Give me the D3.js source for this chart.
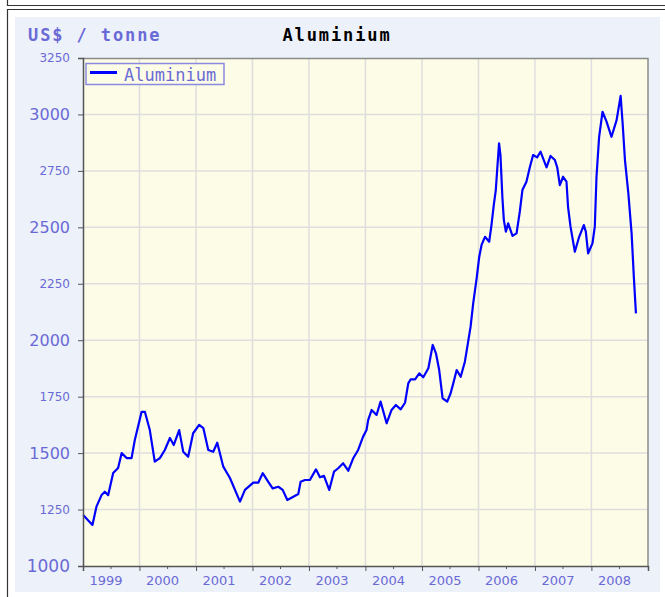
<!DOCTYPE html>
<html>
<head>
<meta charset="utf-8">
<script src="https://cdn.jsdelivr.net/npm/d3@7"></script>
<style>
  body { margin: 0; background: #fff; }
  svg { display: block; }
</style>
</head>
<body>
<div id="chart"></div>
<script>
// Aluminium price, US$ per tonne
const dates = [
  "1999-01-02","1999-03-03","1999-03-29","1999-05-01","1999-05-22","1999-06-13","1999-07-15","1999-08-16",
  "1999-09-08","1999-10-10","1999-11-11","1999-12-02","2000-01-15","2000-02-05","2000-03-08","2000-04-09",
  "2000-05-12","2000-06-13","2000-07-16","2000-08-10","2000-09-14","2000-10-10","2000-11-11","2000-12-13",
  "2001-01-21","2001-02-17","2001-03-21","2001-04-22","2001-05-18","2001-06-26","2001-08-08","2001-10-12",
  "2001-11-13","2002-01-06","2002-02-07","2002-03-08","2002-04-13","2002-05-11","2002-06-17","2002-07-15",
  "2002-08-14","2002-09-22","2002-10-24","2002-11-08","2002-12-06","2003-01-07","2003-02-15","2003-03-13",
  "2003-04-08","2003-05-12","2003-06-12","2003-07-09","2003-08-10","2003-09-12","2003-10-14","2003-11-15",
  "2003-12-17","2004-01-08","2004-01-19","2004-02-10","2004-03-13","2004-04-08","2004-05-17","2004-06-18",
  "2004-07-16","2004-08-16","2004-09-13","2004-10-04","2004-10-20","2004-11-17","2004-12-14","2005-01-09",
  "2005-02-11","2005-03-11","2005-04-01","2005-04-22","2005-05-14","2005-06-13","2005-07-05","2005-07-22",
  "2005-08-13","2005-09-08","2005-10-05","2005-10-26","2005-11-11","2005-11-28","2005-12-20","2006-01-06",
  "2006-01-21","2006-02-12","2006-03-11","2006-03-26","2006-04-10","2006-04-23","2006-05-01","2006-05-14",
  "2006-05-23","2006-06-05","2006-06-14","2006-06-27","2006-07-12","2006-08-09","2006-09-04","2006-09-25",
  "2006-10-12","2006-11-07","2006-11-29","2006-12-20","2007-01-15","2007-02-06","2007-03-17","2007-04-12",
  "2007-05-10","2007-05-25","2007-06-11","2007-07-02","2007-07-24","2007-08-03","2007-08-19","2007-09-16",
  "2007-10-14","2007-11-13","2007-11-26","2007-12-11","2008-01-08","2008-01-23","2008-02-03","2008-02-20",
  "2008-03-13","2008-04-08","2008-05-10","2008-06-12","2008-07-08","2008-07-21","2008-08-05","2008-08-27",
  "2008-09-17","2008-10-02","2008-10-15"
];
const prices = [
  1226,1182,1263,1314,1329,1314,1412,1434,
  1500,1478,1478,1558,1683,1683,1602,1462,
  1478,1514,1567,1536,1602,1506,1484,1588,
  1625,1611,1514,1506,1546,1440,1390,1285,
  1337,1369,1369,1411,1373,1344,1351,1337,
  1292,1307,1319,1373,1381,1381,1428,1393,
  1399,1337,1418,1433,1455,1422,1477,1514,
  1573,1602,1647,1691,1669,1728,1632,1691,
  1713,1694,1723,1809,1827,1827,1853,1836,
  1876,1979,1942,1868,1743,1728,1765,1809,
  1868,1838,1905,1993,2060,2164,2274,2370,
  2422,2458,2436,2510,2599,2665,2746,2872,
  2820,2628,2532,2481,2518,2462,2473,2569,
  2665,2702,2766,2820,2810,2835,2766,2816,
  2798,2766,2687,2724,2702,2591,2503,2392,
  2458,2510,2481,2385,2429,2503,2724,2901,
  3012,2968,2901,2975,3082,2961,2798,2650,
  2473,2274,2119
];
const yearLabels = ["1999","2000","2001","2002","2003","2004","2005","2006","2007","2008"];
const yTicks = [1000,1250,1500,1750,2000,2250,2500,2750,3000,3250];
const seriesName = "Aluminium";
const unitLabel = "US$ / tonne";

const W = 665, H = 597;
const margin = { top: 58, left: 83 },
      width = 565,
      height = 508;
const textColor = "#6a6ad6";

const parse = d3.timeParse("%Y-%m-%d");
const data = dates.map((d, i) => ({ date: parse(d), value: prices[i] }));

const svg = d3.select("#chart").append("svg")
    .attr("width", W)
    .attr("height", H);

// outer frames
svg.append("path")
    .attr("d", "M7.5,0 V5.5 H665 M7.5,597 V9.5 H665")
    .attr("fill", "none")
    .attr("stroke", "#333")
    .attr("stroke-width", 1.2);

// panel
svg.append("rect")
    .attr("x", 15).attr("y", 17)
    .attr("width", 645).attr("height", 575)
    .attr("fill", "#edf1fa");

// header texts
svg.append("text")
    .attr("x", 28).attr("y", 41)
    .style("font-family", "'DejaVu Sans Mono', monospace")
    .style("font-weight", "bold")
    .style("font-size", "17px")
    .style("letter-spacing", "1.9px")
    .attr("fill", textColor)
    .text(unitLabel);

svg.append("text")
    .attr("x", 337).attr("y", 41)
    .attr("text-anchor", "middle")
    .style("font-family", "'DejaVu Sans Mono', monospace")
    .style("font-weight", "bold")
    .style("font-size", "17px")
    .style("letter-spacing", "1.9px")
    .attr("fill", "#000")
    .text(seriesName);

const g = svg.append("g")
    .attr("transform", `translate(${margin.left},${margin.top})`);

const x = d3.scaleTime()
    .domain([new Date(1999, 0, 1), new Date(2009, 0, 1)])
    .range([0, width]);

const y = d3.scaleLinear()
    .domain([1000, 3250])
    .range([height, 0]);

g.append("rect")
    .attr("width", width).attr("height", height)
    .attr("fill", "#fdfce6");

// grid
const yearTicks = yearLabels.map(s => new Date(+s, 0, 1)).concat([new Date(2009, 0, 1)]);
g.append("g")
    .selectAll("line")
    .data(yearTicks.slice(1, -1))
    .join("line")
        .attr("x1", d => x(d)).attr("x2", d => x(d))
        .attr("y1", 0).attr("y2", height)
        .attr("stroke", "#dedede")
        .attr("stroke-width", 1.5);

g.append("g")
    .selectAll("line")
    .data(yTicks.slice(1, -1))
    .join("line")
        .attr("x1", 0).attr("x2", width)
        .attr("y1", d => y(d)).attr("y2", d => y(d))
        .attr("stroke", "#dedede")
        .attr("stroke-width", 1.5);

// top / right border
g.append("path")
    .attr("d", `M0,0.5 H${width} V${height}`)
    .attr("fill", "none")
    .attr("stroke", "#8a8a8a")
    .attr("stroke-width", 1.5);

// line
g.append("path")
    .datum(data)
    .attr("fill", "none")
    .attr("stroke", "#0000ff")
    .attr("stroke-width", 2.2)
    .attr("stroke-linejoin", "round")
    .attr("d", d3.line().x(d => x(d.date)).y(d => y(d.value)));

// x axis: year ticks + half-year minor ticks
const xAxis = g.append("g")
    .attr("transform", `translate(0,${height})`)
    .call(d3.axisBottom(x)
        .tickValues(yearTicks)
        .tickSize(5)
        .tickPadding(5)
        .tickFormat(d => d.getFullYear() < 2009 ? d.getFullYear() : ""));
xAxis.select(".domain").attr("stroke", "#555").attr("stroke-width", 1.5);
xAxis.selectAll(".tick line").attr("stroke", "#555");
xAxis.selectAll(".tick text")
    .attr("text-anchor", "start")
    .attr("x", 6)
    .attr("fill", textColor)
    .style("font-family", "'DejaVu Sans', sans-serif")
    .style("font-size", "13px");

g.append("g")
    .attr("transform", `translate(0,${height})`)
    .selectAll("line")
    .data(yearTicks.slice(0, -1).map(d => d3.timeMonth.offset(d, 6)))
    .join("line")
        .attr("x1", d => x(d)).attr("x2", d => x(d))
        .attr("y1", 0).attr("y2", 3)
        .attr("stroke", "#555");

// y axis
const yAxis = g.append("g")
    .call(d3.axisLeft(y)
        .tickValues(yTicks)
        .tickSize(5)
        .tickPadding(8)
        .tickFormat(d3.format("d")));
yAxis.select(".domain").attr("stroke", "#555").attr("stroke-width", 1.5);
yAxis.selectAll(".tick line").attr("stroke", "#555");
yAxis.selectAll(".tick text")
    .attr("fill", textColor)
    .style("font-family", "'DejaVu Sans', sans-serif")
    .style("font-size", (d, i) => i === 0 ? "17px" : (i % 2 === 0 ? "16px" : "12px"));

// legend
const legend = svg.append("g");
legend.append("rect")
    .attr("x", 86).attr("y", 63.5)
    .attr("width", 138).attr("height", 21)
    .attr("fill", "#fdfce6")
    .attr("stroke", "#8a8ae0")
    .attr("stroke-width", 1.5);
legend.append("line")
    .attr("x1", 90).attr("x2", 117)
    .attr("y1", 72.5).attr("y2", 72.5)
    .attr("stroke", "#0000ff")
    .attr("stroke-width", 3);
legend.append("text")
    .attr("x", 124).attr("y", 81)
    .style("font-family", "'DejaVu Sans Mono', monospace")
    .style("font-size", "17px")
    .attr("fill", textColor)
    .text(seriesName);
</script>
</body>
</html>
